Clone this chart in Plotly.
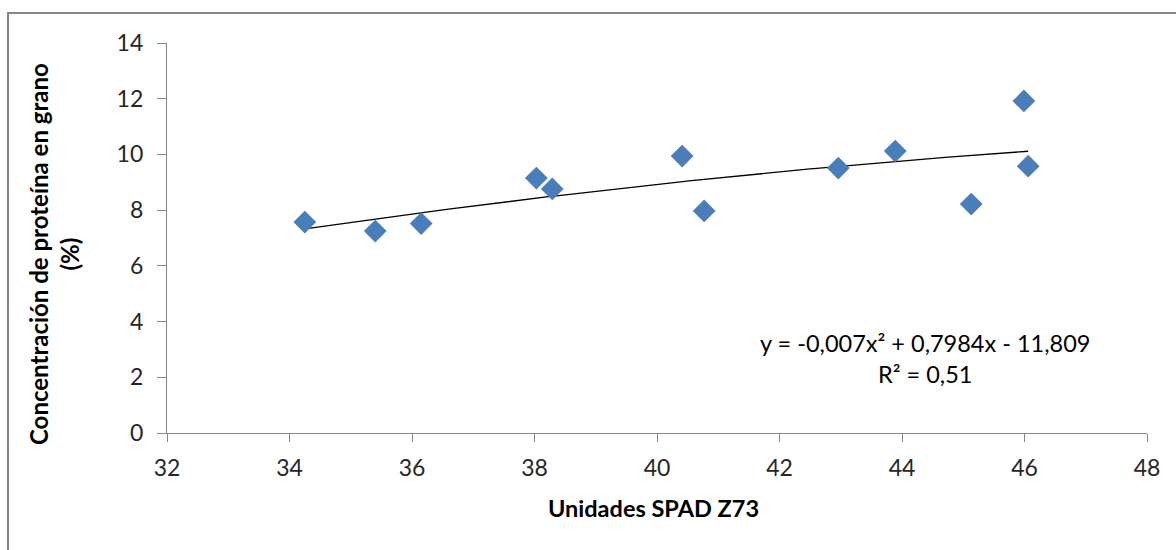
import numpy as np
import plotly.graph_objects as go

# Data
spad_units = [34.25, 35.40, 36.15, 38.03, 38.29, 40.41, 40.77, 42.96, 43.89, 45.13, 45.99, 46.06]
protein_pct = [7.57, 7.25, 7.52, 9.15, 8.76, 9.94, 7.97, 9.51, 10.12, 8.22, 11.92, 9.58]

# Polynomial trendline coefficients as displayed on the chart (a*x^2 + b*x + c)
trend_coefs = [-0.007, 0.7984, -11.809]
equation_text = "y = -0,007x² + 0,7984x - 11,809"
r2_text = "R² = 0,51"

x_ticks = [32, 34, 36, 38, 40, 42, 44, 46, 48]
y_ticks = [0, 2, 4, 6, 8, 10, 12, 14]

FONT = "Lato"
GRAY = "#868686"

trend_x = np.linspace(min(spad_units), max(spad_units), 200)
trend_y = np.polyval(trend_coefs, trend_x)

fig = go.Figure()
fig.add_trace(go.Scatter(
    x=trend_x, y=trend_y, mode="lines",
    line=dict(color="#000000", width=1.3), hoverinfo="skip", showlegend=False))
fig.add_trace(go.Scatter(
    x=spad_units, y=protein_pct, mode="markers",
    marker=dict(symbol="diamond", size=17.5, color="#4A7EBB", line=dict(width=0)),
    showlegend=False))

fig.update_layout(
    width=1176, height=550,
    margin=dict(l=167, r=29, t=43, b=117),
    paper_bgcolor="white", plot_bgcolor="white",
    font=dict(family=FONT, size=23, color="#262626"),
    showlegend=False,
    xaxis=dict(range=[32, 48], tickvals=x_ticks, ticktext=[str(v) for v in x_ticks],
               showgrid=False, zeroline=False, showline=True, linecolor=GRAY, linewidth=1.3,
               ticks="outside", ticklen=8, tickcolor=GRAY, tickwidth=1.3,
               ticklabelstandoff=6,
               tickfont=dict(family=FONT, size=23, color="#262626")),
    yaxis=dict(range=[0, 14], tickvals=y_ticks, ticktext=[str(v) for v in y_ticks],
               showgrid=False, zeroline=False, showline=True, linecolor=GRAY, linewidth=1.3,
               ticks="outside", ticklen=9, tickcolor=GRAY, tickwidth=1.3,
               ticklabelstandoff=9,
               tickfont=dict(family=FONT, size=23, color="#262626")),
    shapes=[dict(type="rect", xref="paper", yref="paper",
                 x0=(8 - 167) / 980, x1=(1190 - 167) / 980,
                 y0=(433 - 570) / 390, y1=(433 - 13) / 390,
                 line=dict(color=GRAY, width=2), fillcolor="rgba(0,0,0,0)", layer="below")],
    annotations=[
        dict(text="<b>Unidades SPAD Z73</b>", xref="paper", yref="paper",
             x=(653 - 167) / 980, y=(433 - 508) / 390, showarrow=False,
             xanchor="center", yanchor="middle",
             font=dict(family=FONT, size=23.5, color="#000000")),
        dict(text="<b>Concentración de proteína en grano<br>(%)</b>", xref="paper", yref="paper",
             x=(54 - 167) / 980, y=(433 - 254) / 390, showarrow=False, textangle=-90,
             xanchor="center", yanchor="middle",
             font=dict(family=FONT, size=24, color="#000000")),
        dict(text=equation_text + "<br>" + r2_text, xref="paper", yref="paper",
             x=(925 - 167) / 980, y=(433 - 358) / 390, showarrow=False,
             xanchor="center", yanchor="middle", align="center",
             font=dict(family=FONT, size=23.5, color="#000000")),
    ],
)

fig.write_html("out.html")
